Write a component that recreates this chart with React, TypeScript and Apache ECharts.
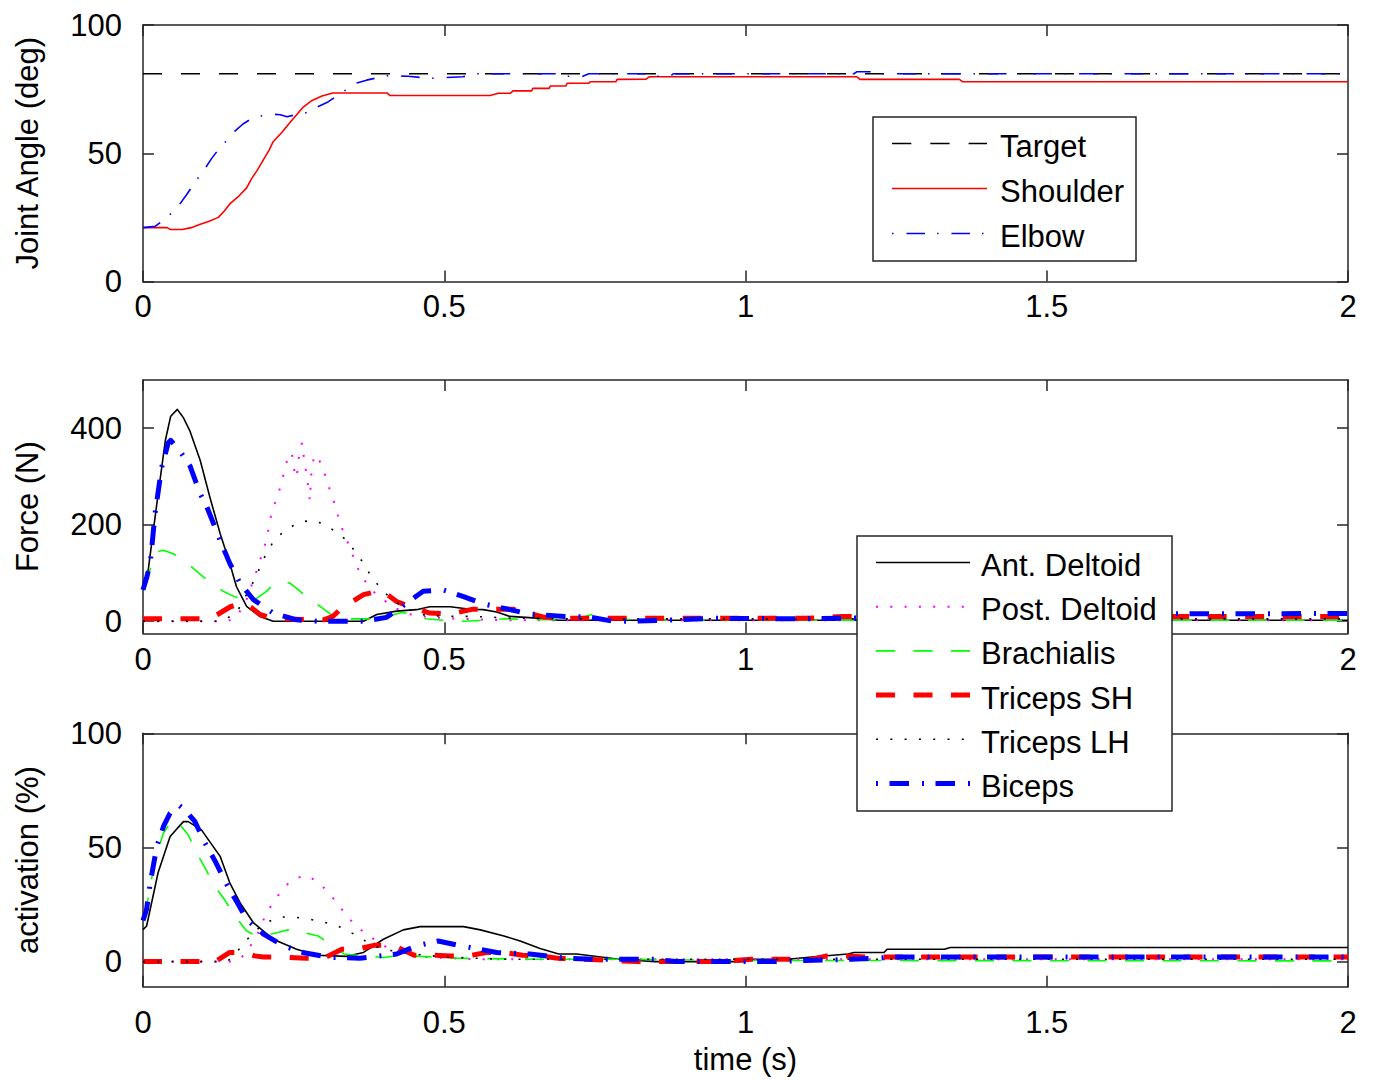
import React, { useEffect, useRef } from "react";
import * as echarts from "echarts";

// ---------- data ----------
const timeTicks = [0, 0.5, 1, 1.5, 2];
const forceTimeLabels = [0, 0.5, 1, 2]; // 1.5 is hidden behind the legend in the reference
const angleTicks = [0, 50, 100];
const forceTicks = [0, 200, 400];
const activationTicks = [0, 50, 100];

const angleLegend = ["Target", "Shoulder", "Elbow"];
const muscleLegend = ["Ant. Deltoid", "Post. Deltoid", "Brachialis", "Triceps SH", "Triceps LH", "Biceps"];

const targetAngle = [[0, 81], [2, 81]];
const shoulderAngle = [
  [0, 21], [0.04, 21], [0.045, 20.3], [0.065, 20.3], [0.08, 21], [0.095, 22.3], [0.11, 23.5], [0.125, 25],
  [0.135, 27.5], [0.145, 30.5], [0.16, 33.5], [0.172, 36.5], [0.18, 40], [0.19, 43.5], [0.2, 47.5], [0.21, 51.5],
  [0.216, 54.5], [0.23, 58], [0.244, 62], [0.255, 65], [0.266, 68], [0.28, 70.5], [0.297, 72.3], [0.315, 73.5],
  [0.405, 73.5], [0.41, 72.5], [0.576, 72.5], [0.59, 73.4], [0.61, 73.4], [0.614, 74.3], [0.645, 74.3], [0.647, 75.3],
  [0.674, 75.3], [0.676, 76.2], [0.702, 76.2], [0.704, 77.3], [0.74, 77.3], [0.742, 77.9], [0.785, 77.9], [0.787, 78.8],
  [0.835, 78.9], [0.84, 79.8], [1.185, 79.8], [1.19, 78.8], [1.355, 78.8], [1.36, 77.9], [2, 77.9],
];
const elbowAngle = [
  [0, 21], [0.02, 21.5], [0.039, 24.8], [0.058, 29.2], [0.072, 33.7], [0.089, 39.6], [0.1, 43], [0.114, 48],
  [0.127, 52], [0.139, 55], [0.152, 58.5], [0.166, 61.4], [0.178, 63.2], [0.189, 64.2], [0.211, 65.3], [0.228, 65],
  [0.239, 64.2], [0.262, 65.5], [0.277, 66], [0.285, 67.6], [0.307, 70], [0.332, 74], [0.355, 77.4], [0.371, 78.5],
  [0.404, 80.2], [0.44, 80], [0.476, 79.2], [0.531, 79.8], [0.554, 81], [0.69, 81], [0.7, 80], [0.73, 80],
  [0.74, 81], [0.845, 81], [0.85, 80], [0.875, 80], [0.88, 81], [1.18, 81], [1.185, 81.8], [1.215, 81.8],
  [1.22, 81], [2, 81],
];

const antDeltoidForce = [
  [0, 80], [0.008, 100], [0.023, 244], [0.037, 374], [0.046, 425], [0.057, 439], [0.067, 422], [0.078, 394],
  [0.095, 333], [0.111, 257], [0.128, 182], [0.144, 120], [0.155, 72], [0.172, 31], [0.194, 10], [0.216, 0],
  [0.366, 0], [0.388, 14], [0.421, 21], [0.454, 24], [0.476, 30], [0.51, 30], [0.543, 25], [0.565, 24],
  [0.587, 19], [0.609, 10], [0.66, 6], [0.69, 2], [2, 2],
];
const postDeltoidForce = [
  [0, 0], [0.14, 0], [0.155, 8], [0.172, 45], [0.189, 106], [0.205, 168], [0.213, 223], [0.228, 278],
  [0.239, 333], [0.247, 350], [0.25, 318], [0.255, 297], [0.259, 345], [0.264, 370], [0.268, 330], [0.272, 300],
  [0.277, 250], [0.28, 320], [0.285, 345], [0.29, 340], [0.298, 319], [0.305, 292], [0.313, 261], [0.32, 237],
  [0.326, 206], [0.335, 178], [0.344, 151], [0.352, 123], [0.36, 100], [0.371, 79], [0.382, 62], [0.399, 45],
  [0.413, 31], [0.44, 15], [0.476, 8], [0.53, 5], [0.6, 2], [2, 2],
];
const brachialisForce = [
  [0, 75], [0.008, 95], [0.023, 144], [0.034, 147], [0.05, 140], [0.064, 130], [0.083, 110], [0.1, 92],
  [0.111, 82], [0.133, 62], [0.15, 52], [0.166, 45], [0.189, 48], [0.205, 62], [0.216, 76], [0.23, 82],
  [0.244, 79], [0.258, 65], [0.271, 51], [0.294, 31], [0.316, 10], [0.33, 5], [0.38, 5], [0.41, 12],
  [0.43, 18], [0.45, 14], [0.47, 5], [0.5, 2], [0.53, 0], [0.57, 2], [0.6, 5], [0.66, 3], [0.72, 5],
  [0.745, 14], [0.77, 8], [0.82, 2], [2, 2],
];
const tricepsSHForce = [
  [0, 5], [0.11, 5], [0.125, 15], [0.145, 30], [0.166, 38], [0.18, 28], [0.194, 14], [0.216, 5], [0.3, 3],
  [0.315, 10], [0.327, 24], [0.338, 34], [0.366, 55], [0.388, 62], [0.4, 60], [0.421, 41], [0.443, 30],
  [0.476, 17], [0.51, 15], [0.548, 25], [0.614, 25], [0.664, 9], [0.7, 6], [0.9, 6], [1.1, 6], [1.16, 10],
  [1.3, 10], [2, 10],
];
const tricepsLHForce = [
  [0, 0], [0.13, 0], [0.155, 17], [0.178, 69], [0.189, 96], [0.197, 121], [0.208, 148], [0.22, 172],
  [0.239, 190], [0.258, 205], [0.28, 209], [0.302, 201], [0.321, 184], [0.34, 166], [0.353, 142], [0.367, 119],
  [0.378, 94], [0.393, 71], [0.41, 48], [0.43, 31], [0.46, 14], [0.5, 10], [0.55, 10], [0.6, 7], [0.7, 5], [2, 5],
];
const bicepsForce = [
  [0, 65], [0.006, 90], [0.012, 120], [0.02, 223], [0.031, 319], [0.042, 370], [0.046, 375], [0.061, 353],
  [0.078, 322], [0.095, 264], [0.106, 237], [0.128, 168], [0.144, 120], [0.161, 79], [0.183, 45], [0.216, 17],
  [0.255, 3], [0.29, 0], [0.366, 0], [0.404, 8], [0.438, 38], [0.465, 62], [0.498, 65], [0.532, 51],
  [0.565, 36], [0.587, 30], [0.642, 15], [0.7, 10], [0.74, 9], [0.78, 0], [0.81, 0], [0.86, 2], [0.95, 6],
  [1.1, 5], [1.2, 7], [1.4, 12], [1.6, 15], [2, 16],
];

const antDeltoidAct = [
  [0, 14], [0.006, 15.6], [0.025, 38.9], [0.045, 54.8], [0.067, 61.3], [0.075, 61.3], [0.097, 57.7],
  [0.128, 46.1], [0.144, 34.5], [0.161, 25.8], [0.183, 17.1], [0.216, 9.8], [0.255, 5.4], [0.288, 2.8],
  [0.338, 2.3], [0.366, 4], [0.399, 9.8], [0.432, 13.9], [0.46, 15.3], [0.532, 15.3], [0.56, 13.9],
  [0.599, 11.2], [0.626, 9], [0.659, 5.7], [0.69, 3.3], [0.72, 3.3], [0.79, 1], [0.85, 0], [1.0, 0],
  [1.01, 1], [1.07, 1], [1.11, 2], [1.17, 3.3], [1.18, 4], [1.23, 4], [1.235, 5.4], [1.33, 5.4], [1.34, 6.2],
  [2, 6.2],
];
const postDeltoidAct = [
  [0, 0], [0.15, 0], [0.161, 1], [0.175, 5.4], [0.19, 12], [0.205, 21.4], [0.22, 27.2], [0.233, 32.3],
  [0.25, 36.2], [0.27, 37.8], [0.291, 34.9], [0.307, 30.4], [0.322, 25.8], [0.336, 20.7], [0.351, 16.3],
  [0.369, 12.3], [0.388, 9], [0.41, 5.4], [0.432, 4], [0.47, 2], [0.55, 1], [2, 1],
];
const brachialisAct = [
  [0, 20], [0.008, 27], [0.02, 44.7], [0.034, 56.3], [0.048, 62], [0.055, 62], [0.075, 55.6], [0.089, 47.6],
  [0.106, 39.6], [0.117, 33.8], [0.137, 26.5], [0.15, 20.7], [0.172, 13.4], [0.189, 11.2], [0.205, 11.5],
  [0.227, 13], [0.25, 14.5], [0.27, 12.5], [0.291, 11.2], [0.311, 7.6], [0.334, 3.3], [0.366, 2.5], [0.4, 1.8],
  [0.43, 3], [0.46, 2.3], [0.52, 1.5], [0.65, 1], [0.8, 1], [1.0, 0.5], [2, 0.3],
];
const tricepsSHAct = [
  [0, 0], [0.12, 0], [0.144, 4], [0.169, 4], [0.185, 2.5], [0.2, 2], [0.23, 2], [0.27, 1.5], [0.3, 1.5],
  [0.33, 5.4], [0.355, 5.4], [0.385, 7.2], [0.415, 7.2], [0.45, 2.8], [0.48, 2.8], [0.51, 2.5], [0.54, 2.5],
  [0.57, 4], [0.6, 4], [0.63, 2.8], [0.66, 2.5], [0.69, 1.4], [0.72, 1.2], [0.82, 0], [0.95, 0], [1.01, 1],
  [1.11, 1], [1.135, 2.5], [1.165, 2.5], [1.2, 2], [2, 2],
];
const tricepsLHAct = [
  [0, 0], [0.14, 0], [0.155, 4], [0.169, 8.6], [0.186, 13.4], [0.205, 17.1], [0.226, 19.5], [0.25, 19.5],
  [0.273, 18.8], [0.295, 17.5], [0.317, 16.3], [0.339, 13.7], [0.36, 10.5], [0.382, 6.9], [0.405, 5.1],
  [0.45, 3.3], [0.5, 2], [0.6, 1], [2, 1],
];
const bicepsAct = [
  [0, 18], [0.006, 22.9], [0.012, 34.5], [0.023, 50.5], [0.034, 59.2], [0.045, 65], [0.059, 68.6], [0.07, 66.4],
  [0.086, 61.4], [0.103, 51.9], [0.12, 43.9], [0.139, 33.8], [0.155, 26.5], [0.172, 18.5], [0.2, 12],
  [0.233, 6.9], [0.265, 4], [0.31, 1.8], [0.36, 1.5], [0.421, 3.3], [0.454, 6.9], [0.49, 9], [0.527, 6.9],
  [0.559, 5.4], [0.587, 4], [0.642, 3.3], [0.7, 1.5], [0.75, 1], [0.85, 1], [0.885, 0], [1.05, 0], [1.1, 0.5],
  [1.175, 1], [1.25, 2], [2, 2],
];

// ---------- styles ----------
const FONT = "'Liberation Sans', Arial, Helvetica, sans-serif";
const AXIS_COLOR = "#262626";
const FS = 31;

const angleStyles = [
  { color: "#000000", width: 1.5, dash: [19, 19] },
  { color: "#ff0000", width: 1.6, dash: "solid" },
  { color: "#0000ff", width: 1.6, dash: [18.5, 12.5, 1.5, 13] },
];
const muscleStyles = [
  { color: "#000000", width: 1.6, dash: "solid" },
  { color: "#ff00ff", width: 2, dash: [2, 12.3] },
  { color: "#00ff00", width: 1.6, dash: [19, 18.5] },
  { color: "#ff0000", width: 5, dash: [19, 18.5] },
  { color: "#000000", width: 1.6, dash: [2, 12.3] },
  { color: "#0000ff", width: 5, dash: [19.5, 13, 2, 11.5] },
];
const legendDashAngle = [[19.3, 19], "solid", [1.5, 13, 18.5, 12]];
const legendDashMuscle = ["solid", [2, 12.3], [19, 18.5], [19, 18.5], [2, 12.3], [2, 11.5, 19.5, 13]];

const grids = [
  { left: 143, right: 26, top: 25, height: 256.5 },
  { left: 143, right: 26, top: 380, height: 253.3 },
  { left: 143, right: 26, top: 733.3, height: 253.4 },
];

function xAxes(gridIndex: number, labelMargin: number, labels: number[], name?: string) {
  const common = {
    type: "value",
    gridIndex,
    min: 0,
    max: 2,
    interval: 0.5,
    splitLine: { show: false },
    axisLine: { show: true, onZero: false, lineStyle: { color: AXIS_COLOR, width: 1.5 } },
    axisTick: { show: true, inside: true, length: 11, lineStyle: { color: AXIS_COLOR, width: 1.5 } },
  };
  return [
    {
      ...common,
      position: "bottom",
      axisLabel: {
        show: true,
        margin: labelMargin,
        fontSize: FS,
        fontFamily: FONT,
        color: "#000",
        customValues: labels,
        formatter: (v: number) => String(v),
      },
      axisTick: { ...common.axisTick, customValues: timeTicks },
      name: name || "",
      nameLocation: "middle",
      nameGap: 57,
      nameTextStyle: { fontSize: FS, fontFamily: FONT, color: "#000" },
    },
    {
      ...common,
      position: "top",
      axisLabel: { show: false },
      axisTick: { ...common.axisTick, customValues: timeTicks },
    },
  ];
}

function yAxes(gridIndex: number, min: number, max: number, ticks: number[], name: string) {
  const common = {
    type: "value",
    gridIndex,
    min,
    max,
    splitLine: { show: false },
    axisLine: { show: true, onZero: false, lineStyle: { color: AXIS_COLOR, width: 1.5 } },
    axisTick: { show: true, inside: true, length: 11, customValues: ticks, lineStyle: { color: AXIS_COLOR, width: 1.5 } },
  };
  return [
    {
      ...common,
      position: "left",
      name,
      nameLocation: "middle",
      nameGap: 100,
      nameRotate: 90,
      nameTextStyle: { fontSize: 31, fontFamily: FONT, color: "#000" },
      axisLabel: {
        show: true,
        margin: 21,
        fontSize: FS,
        fontFamily: FONT,
        color: "#000",
        customValues: ticks,
      },
    },
    { ...common, position: "right", axisLabel: { show: false } },
  ];
}

function lineSeries(name: string, data: number[][], style: any, panel: number) {
  return {
    type: "line",
    name,
    data,
    xAxisIndex: panel * 2,
    yAxisIndex: panel * 2,
    showSymbol: false,
    symbol: "none",
    smooth: false,
    lineStyle: { color: style.color, width: style.width, type: style.dash, cap: "butt", join: "round" },
    itemStyle: { color: style.color },
  };
}

function legendBox(
  x: number, y: number, w: number, h: number,
  lineX1: number, lineX2: number, textX: number, firstY: number, step: number,
  names: string[], styles: any[], dashes: any[]
) {
  const els: any[] = [
    {
      type: "rect",
      z: 100,
      shape: { x, y, width: w, height: h },
      style: { fill: "#ffffff", stroke: AXIS_COLOR, lineWidth: 1.5 },
    },
  ];
  names.forEach((n, i) => {
    const ly = firstY + i * step;
    els.push({
      type: "line",
      z: 101,
      shape: { x1: lineX1, y1: ly, x2: lineX2, y2: ly },
      style: {
        stroke: styles[i].color,
        lineWidth: styles[i].width,
        lineDash: dashes[i] === "solid" ? null : dashes[i],
        lineCap: "butt",
      },
    });
    els.push({
      type: "text",
      z: 101,
      x: textX,
      y: ly + 3,
      style: {
        text: n,
        fontSize: FS,
        fontFamily: FONT,
        fill: "#000",
        align: "left",
        verticalAlign: "middle",
      },
    });
  });
  return els;
}

export default function App() {
  const ref = useRef<HTMLDivElement>(null);
  useEffect(() => {
    if (!ref.current) return;
    const chart = echarts.init(ref.current, undefined, { renderer: "svg" });
    const angleData = [targetAngle, shoulderAngle, elbowAngle];
    const forceData = [antDeltoidForce, postDeltoidForce, brachialisForce, tricepsSHForce, tricepsLHForce, bicepsForce];
    const actData = [antDeltoidAct, postDeltoidAct, brachialisAct, tricepsSHAct, tricepsLHAct, bicepsAct];

    const series: any[] = [];
    angleLegend.forEach((n, i) => series.push(lineSeries(n, angleData[i], angleStyles[i], 0)));
    muscleLegend.forEach((n, i) => series.push(lineSeries(n, forceData[i], muscleStyles[i], 1)));
    muscleLegend.forEach((n, i) => series.push(lineSeries(n, actData[i], muscleStyles[i], 2)));

    const option: any = {
      animation: false,
      backgroundColor: "#ffffff",
      textStyle: { fontFamily: FONT },
      grid: grids.map((g) => ({ ...g, containLabel: false })),
      xAxis: [
        ...xAxes(0, 9, timeTicks),
        ...xAxes(1, 11, forceTimeLabels),
        ...xAxes(2, 20, timeTicks, "time (s)"),
      ],
      yAxis: [
        ...yAxes(0, 0, 100, angleTicks, "Joint Angle (deg)"),
        ...yAxes(1, -25, 500, forceTicks, "Force (N)"),
        ...yAxes(2, -11, 100, activationTicks, "activation (%)"),
      ],
      series,
      graphic: {
        elements: [
          ...legendBox(873, 117, 263, 144, 892, 987, 1000, 143.5, 45, angleLegend, angleStyles, legendDashAngle),
          ...legendBox(857, 536, 315, 275, 876, 970, 981, 562.5, 44.2, muscleLegend, muscleStyles, legendDashMuscle),
        ],
      },
    };
    chart.setOption(option);
    return () => chart.dispose();
  }, []);
  return (
    <div
      ref={ref}
      style={{ position: "absolute", left: 0, top: 0, width: 1374, height: 1080, background: "#fff" }}
    />
  );
}
